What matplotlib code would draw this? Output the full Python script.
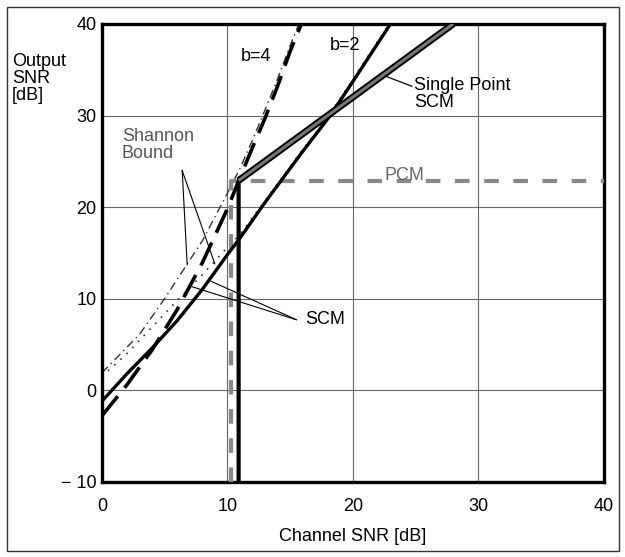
import matplotlib
matplotlib.use("Agg")
import matplotlib.pyplot as plt
from matplotlib.patches import Rectangle

plt.rcParams['font.family'] = ['Liberation Sans', 'DejaVu Sans']
plt.rcParams['font.size'] = 13

# values (channel SNR dB -> output SNR dB)
scm_b2_x = [0, 2, 4, 6, 8, 10, 11, 13, 15.8, 18.2, 20, 23]
scm_b2_y = [-1.2, 1.8, 4.6, 7.6, 11.0, 14.8, 16.6, 20.5, 25.7, 30.0, 33.7, 40]

scm_b4_x = [0, 2, 4, 6, 8, 10, 11, 12, 13, 14, 15, 15.9]
scm_b4_y = [-2.8, 0.6, 4.4, 8.8, 13.9, 19.8, 23.2, 26.5, 29.7, 33.2, 37.0, 40]

shannon_b4_x = [0, 3, 5, 8, 10, 11, 12, 13, 14, 15, 15.7]
shannon_b4_y = [1.9, 6.1, 10.0, 16.3, 21.5, 24.2, 27.3, 30.6, 34.0, 37.6, 40]

shannon_b2_x = [0, 2, 4, 6, 8, 10, 11, 13, 15.8, 18.2, 23]
shannon_b2_y = [1.5, 4.0, 6.9, 9.8, 12.6, 15.6, 17.0, 20.7, 25.9, 30.2, 40.2]

pcm_x = [10.3, 10.3, 40]
pcm_y = [-10, 22.9, 22.9]

single_x = [10.9, 10.9, 28]
single_y = [-10, 22.9, 40]

xticks = [0, 10, 20, 30, 40]
yticks = [-10, 0, 10, 20, 30, 40]
ytick_labels = ['\u2212 10', '0', '10', '20', '30', '40']

fig = plt.figure(figsize=(6.25, 5.57), dpi=100)
ax = fig.add_axes([0.163, 0.135, 0.803, 0.822])

ax.set_xlim(0, 40)
ax.set_ylim(-10, 40)
ax.set_xticks(xticks)
ax.set_yticks(yticks)
ax.set_yticklabels(ytick_labels)
ax.tick_params(length=0, labelsize=13)
ax.tick_params(axis='x', pad=12)
ax.tick_params(axis='y', pad=4)
ax.grid(True, color='#666666', lw=0.8)
for s in ax.spines.values():
    s.set_linewidth(2.4)
    s.set_color('black')
ax.set_axisbelow(True)

# Shannon bounds (thin)
ax.plot(shannon_b4_x, shannon_b4_y, color='#333333', lw=1.0,
        dashes=(6, 3, 1, 3), zorder=2)
ax.plot(shannon_b2_x, shannon_b2_y, color='#333333', lw=1.2,
        dashes=(1, 4), zorder=2)

# PCM
ax.plot(pcm_x, pcm_y, color='#888888', lw=3.0, dashes=(3.5, 3.5), zorder=3)

# SCM curves
ax.plot(scm_b2_x, scm_b2_y, color='black', lw=2.4, zorder=4,
        solid_capstyle='butt')
ax.plot(scm_b4_x, scm_b4_y, color='black', lw=2.6, dashes=(7, 3), zorder=4)

# single point SCM
ax.plot(single_x, single_y, color='black', lw=3.0, zorder=5,
        solid_joinstyle='miter')
ax.plot(single_x[1:], single_y[1:], color='black', lw=5.0, zorder=5,
        solid_capstyle='butt')
ax.plot(single_x[1:], single_y[1:], color='#777777', lw=2.2, zorder=6,
        solid_capstyle='butt')

# annotations
ax.text(12.3, 36.4, 'b=4', ha='center', va='center')
ax.text(19.4, 37.6, 'b=2', ha='center', va='center')
ax.text(24.9, 32.4, 'Single Point\nSCM', ha='left', va='center',
        linespacing=1.0)
ax.plot([24.7, 22.6], [33.2, 34.3], color='black', lw=0.9, zorder=7)

ax.text(1.6, 28.6, 'Shannon\nBound', ha='left', va='top',
        color='#555555', linespacing=1.0)
ax.plot([6.4, 6.8], [24.0, 13.7], color='black', lw=0.8, zorder=7)
ax.plot([6.4, 9.0], [24.0, 13.8], color='black', lw=0.8, zorder=7)

ax.text(24.1, 22.5, 'PCM', ha='center', va='bottom', color='#666666')

ax.text(16.2, 7.7, 'SCM', ha='left', va='center')
ax.plot([15.5, 7.2], [7.7, 11.3], color='black', lw=0.8, zorder=7)
ax.plot([15.5, 8.7], [7.7, 11.9], color='black', lw=0.8, zorder=7)

ax.set_xlabel('Channel SNR [dB]', labelpad=9)
fig.text(12 / 625, 1 - 53 / 557, 'Output\nSNR\n[dB]', ha='left', va='top',
         linespacing=1.0)

fig.patches.append(Rectangle((7 / 625, 6 / 557), 612 / 625, 544 / 557,
                             transform=fig.transFigure, fill=False,
                             edgecolor='#333333', lw=1.0))

fig.savefig('out.png', dpi=100)
